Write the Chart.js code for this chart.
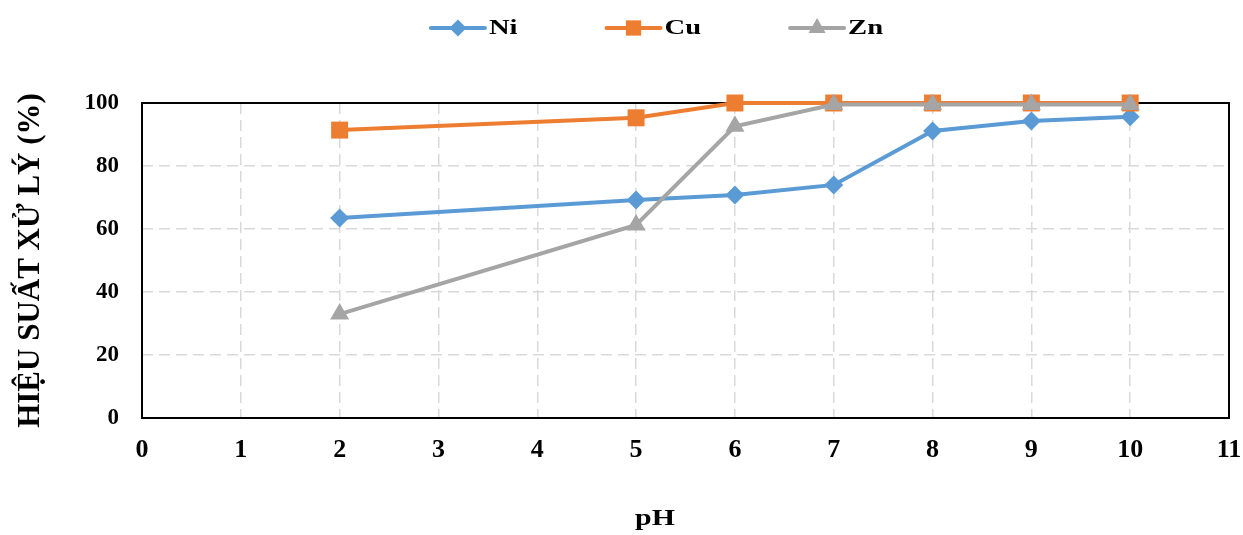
<!DOCTYPE html>
<html lang="vi">
<head>
<meta charset="utf-8">
<title>Hiệu suất xử lý theo pH</title>
<script src="https://cdn.jsdelivr.net/npm/chart.js@4.4.1/dist/chart.umd.min.js"></script>
<style>
  html, body { margin: 0; padding: 0; background: #ffffff; }
  #wrap { width: 1243px; height: 535px; }
</style>
</head>
<body>
<div id="wrap"><canvas id="c" width="1243" height="535"></canvas></div>
<script>
// pH values and removal efficiency (%) for each metal
const phValues = [2, 5, 6, 7, 8, 9, 10];
const niValues = [63.5, 69.2, 70.8, 74.0, 91.1, 94.3, 95.6];
const cuValues = [91.4, 95.3, 100, 100, 100, 100, 100];
const znValues = [33.0, 61.3, 92.6, 99.5, 99.5, 99.5, 99.5];

const seriesNames = ['Ni', 'Cu', 'Zn'];
const yTitle = 'HIỆU SUẤT XỬ LÝ (%)';
const xTitle = 'pH';

const SERIF = '"Liberation Serif", "Times New Roman", serif';
const COLORS = { Ni: '#5B9BD5', Cu: '#ED7D31', Zn: '#A5A5A5' };
const STYLES = { Ni: ['rectRot', 9.5], Cu: ['rect', 12], Zn: ['triangle', 11] };
const STRETCH = 1.3;

function series(name, values, order) {
  return {
    label: name,
    data: phValues.map((x, i) => ({ x: x, y: values[i] })),
    borderColor: COLORS[name],
    backgroundColor: COLORS[name],
    borderWidth: 4,
    pointStyle: STYLES[name][0],
    pointRadius: STYLES[name][1],
    pointHoverRadius: STYLES[name][1],
    pointBorderWidth: 0,
    tension: 0,
    clip: false,
    order: order
  };
}

// Wide bold label, drawn with a horizontal stretch
function wideText(ctx, text, x, y, size, align) {
  ctx.save();
  ctx.font = 'bold ' + size + 'px ' + SERIF;
  ctx.fillStyle = '#000000';
  ctx.textBaseline = 'middle';
  ctx.textAlign = align;
  ctx.translate(x, y);
  ctx.scale(STRETCH, 1);
  ctx.fillText(text, 0, 0);
  ctx.restore();
}

// Black frame around the plot area
const framePlugin = {
  id: 'frame',
  beforeDatasetsDraw(chart) {
    const a = chart.chartArea, ctx = chart.ctx;
    ctx.save();
    ctx.strokeStyle = '#000000';
    ctx.lineWidth = 2;
    ctx.strokeRect(a.left, a.top, a.right - a.left, a.bottom - a.top);
    ctx.restore();
  }
};

// Legend (line + marker + label) and the pH axis title
const lineLegendPlugin = {
  id: 'lineLegend',
  afterDraw(chart) {
    const ctx = chart.ctx;
    const y = 28, lineLen = 54, textGap = 4, itemGap = 89, size = 22;
    ctx.save();
    ctx.font = 'bold ' + size + 'px ' + SERIF;
    const items = chart.data.datasets.slice().sort((a, b) => seriesNames.indexOf(a.label) - seriesNames.indexOf(b.label));
    const widths = items.map(d => lineLen + textGap + ctx.measureText(d.label).width * STRETCH);
    const total = widths.reduce((s, w) => s + w, 0) + itemGap * (items.length - 1);
    let x = 657 - total / 2;
    items.forEach((d, i) => {
      ctx.strokeStyle = d.borderColor;
      ctx.lineWidth = 4;
      ctx.lineCap = 'round';
      ctx.beginPath();
      ctx.moveTo(x, y);
      ctx.lineTo(x + lineLen, y);
      ctx.stroke();
      ctx.fillStyle = d.backgroundColor;
      Chart.helpers.drawPoint(ctx, { pointStyle: d.pointStyle, radius: d.pointRadius * 0.9, borderWidth: 0, rotation: 0 }, x + lineLen / 2, y);
      wideText(ctx, d.label, x + lineLen + textGap, y, size, 'left');
      x += widths[i] + itemGap;
    });
    ctx.restore();

    wideText(ctx, xTitle, 655, 519, 23, 'center');
  }
};

const gridStyle = { color: '#D9D9D9', lineWidth: 1.5, drawTicks: false };
const borderStyle = { display: false, dash: [11, 6] };

new Chart(document.getElementById('c'), {
  type: 'line',
  data: {
    datasets: [
      series('Ni', niValues, 2),
      series('Cu', cuValues, 1),
      series('Zn', znValues, 0)
    ]
  },
  options: {
    responsive: false,
    animation: false,
    devicePixelRatio: 1,
    layout: { padding: { top: 103, right: 0, left: 0, bottom: 0 } },
    plugins: { legend: { display: false }, tooltip: { enabled: false } },
    scales: {
      x: {
        type: 'linear',
        min: 0,
        max: 11,
        grid: gridStyle,
        border: borderStyle,
        ticks: { stepSize: 1, padding: 17, color: '#000000', font: { family: SERIF, size: 26, weight: 'bold' } },
        title: { display: false, text: xTitle },
        afterFit(scale) {
          scale.height = 117;
          scale.paddingRight = 14;
          scale.paddingLeft = 0;
        }
      },
      y: {
        type: 'linear',
        min: 0,
        max: 100,
        grid: gridStyle,
        border: borderStyle,
        ticks: { stepSize: 20, padding: 23, color: '#000000', font: { family: SERIF, size: 23, weight: 'bold' } },
        title: { display: true, text: yTitle, color: '#000000', padding: { top: 12, bottom: 0 }, font: { family: SERIF, size: 31, weight: 'bold' } },
        afterFit(scale) { scale.width = 142; }
      }
    }
  },
  plugins: [framePlugin, lineLegendPlugin]
});
</script>
</body>
</html>
